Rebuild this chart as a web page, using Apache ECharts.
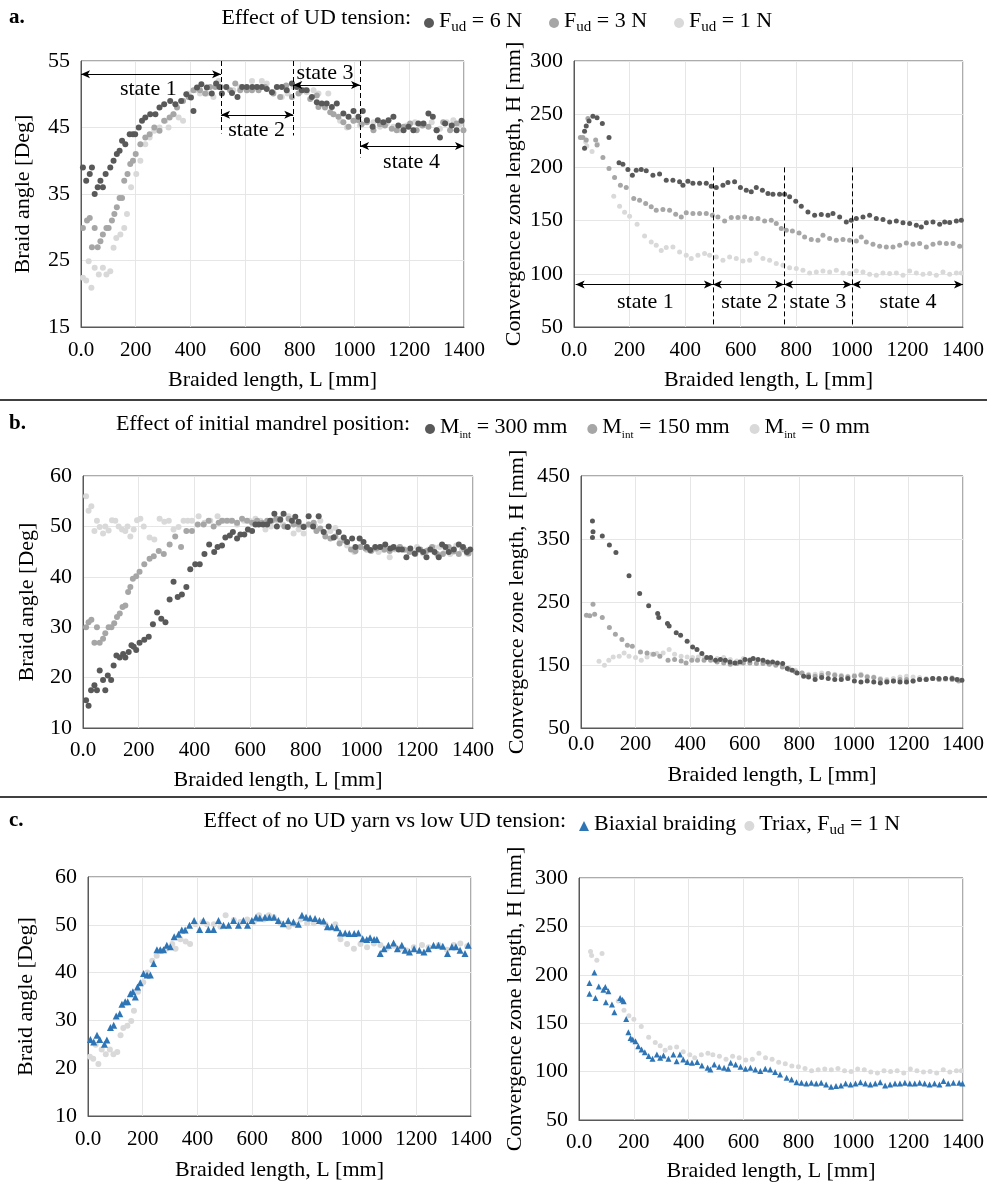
<!DOCTYPE html>
<html>
<head>
<meta charset="utf-8">
<script src="https://cdn.jsdelivr.net/npm/echarts@6/dist/echarts.min.js"></script>
<style>
  html, body { margin: 0; padding: 0; background: #fff; }
  #chart { width: 987px; height: 1183px; }
</style>
</head>
<body>
<div id="chart"></div>
<script>
// ---- data: [braided length L (mm), value] ----
// a. effect of UD tension - braid angle
const angleUd6 = [[7,39],[19,37],[32,38],[40,39],[50,35],[61,36],[71,37],[80,36],[90,38],[107,39],[119,40],[131,41],[141,41.5],[150,43],[162,42.5],[178,44],[190,44],[198,44],[211,45],[223,46],[235,46.5],[253,47],[272,47],[287,48],[304,48.5],[326,49],[345,48.5],[366,49],[385,50],[402,49.5],[411,47.5],[424,51],[440,51.5],[460,51],[478,50.1],[494,51.6],[506,51.1],[515,50.1],[531,51.1],[552,50.2],[572,49.6],[589,51.1],[606,51.1],[626,51.1],[643,51.1],[661,51.1],[679,50.8],[698,50.3],[716,51.1],[734,51.1],[752,50.6],[771,51.6],[789,51.1],[807,50.6],[825,50.6],[844,49.6],[862,48.8],[880,48.6],[898,48.6],[917,48.1],[935,48.6],[959,47.1],[978,46.6],[996,47.5],[1014,46.6],[1030,47.5],[1045,46.1],[1066,45.1],[1085,46.1],[1105,45.8],[1124,46.1],[1142,46.6],[1160,45.3],[1179,44.6],[1197,45.1],[1215,44.6],[1233,45.6],[1252,45.6],[1270,47.1],[1286,46.6],[1300,44.6],[1312,43.5],[1331,45.6],[1355,45.3],[1373,44.6],[1391,46]]
const angleUd3 = [[7,29.9],[22,31],[32,31.4],[40,27],[50,29.9],[61,27],[71,27.9],[80,28.9],[93,29.9],[101,29.9],[113,31],[122,32],[131,33],[141,34.4],[150,34.4],[158,37],[170,38],[180,39.5],[190,40],[200,41],[217,42.5],[235,43.5],[251,44],[268,45],[287,44.5],[304,46],[324,46.5],[338,47],[351,48],[373,49],[393,49.6],[411,50.6],[435,50.6],[454,50.1],[472,51.1],[491,51.1],[511,51.1],[545,50.6],[564,51.6],[582,50.6],[606,50.6],[625,50.6],[649,50.6],[673,51.1],[703,50.1],[728,49.6],[750,51.3],[771,49.6],[795,50.1],[816,50.6],[838,49.3],[862,49.8],[868,48.1],[892,48],[911,47.3],[923,47],[941,46.6],[959,45.8],[978,45.1],[996,46],[1014,46.1],[1026,45.5],[1045,45.8],[1069,44.6],[1093,45.5],[1111,45.3],[1136,44.8],[1154,44.6],[1179,45.1],[1203,45.6],[1227,44.6],[1249,45.3],[1270,45.1],[1300,44.6],[1324,45.8],[1349,44.6],[1373,45.6],[1398,44.6]]
// Fud = 1 N, also the triax series of row c
const angleUd1 = [[7,22.4],[19,22],[28,24.9],[38,20.9],[50,23.9],[65,22.9],[80,23.9],[93,22.9],[107,23.4],[119,26.9],[129,28.4],[144,28.9],[158,29.9],[168,32],[183,36],[202,38],[217,40],[235,42.5],[251,43.5],[268,44.5],[287,45],[308,46],[320,45],[338,47],[357,46.5],[373,46],[393,50.1],[418,50.6],[435,50.1],[460,50.1],[484,49.6],[503,52],[533,51],[557,50.6],[582,51.1],[606,50.6],[625,52],[643,51.1],[661,52],[679,51.6],[703,50.3],[734,49.6],[755,50.1],[777,51.1],[801,50.3],[825,50.3],[850,50.6],[868,50.1],[904,50.1],[923,47],[947,46],[972,45],[996,46],[1020,45.3],[1045,46.1],[1069,45.8],[1093,45.1],[1118,45.6],[1142,45.1],[1166,44.6],[1191,45.3],[1221,45.8],[1245,45.3],[1282,45.8],[1312,44.8],[1337,45.8],[1361,46.1],[1386,45.5]]

// a. effect of UD tension - convergence zone length
const convUd6 = [[38,234],[38,218],[44,239],[54,243.5],[68,248],[83,246.7],[102,241.3],[126,228.2],[162,204.3],[176,203],[194,198],[210,192.7],[224,197.4],[242,198],[260,196.8],[284,192.7],[308,193.7],[332,188],[356,188],[380,186.4],[392,183.3],[410,187],[428,185],[452,185],[476,185],[494,182.4],[512,181],[536,183.3],[554,185.8],[578,186.4],[599,181],[620,178.6],[638,177],[656,181],[678,178.6],[698,175.5],[716,174.8],[740,174.8],[758,174.8],[776,172.3],[798,168.3],[818,163.6],[842,158.2],[866,155],[890,155.7],[914,155],[932,156.6],[956,153.5],[980,148.8],[998,150.4],[1016,152],[1040,153.5],[1064,155],[1088,152],[1112,151],[1136,148.8],[1160,149.7],[1184,147.9],[1208,147.2],[1232,145.7],[1250,144],[1268,147.9],[1292,148.8],[1316,146.6],[1334,148.8],[1352,148.2],[1376,149.7],[1394,150.4]]
const convUd3 = [[23,228.2],[32,228.2],[44,225.7],[50,246],[78,225.7],[83,221],[104,209.4],[126,199],[146,190.5],[167,183.3],[188,181],[215,170.8],[236,169.2],[258,166],[278,163],[296,159.8],[320,160.4],[344,159.8],[366,156],[386,153.5],[404,157.3],[428,156.6],[452,156.6],[476,156.6],[498,155],[518,153.5],[542,149.7],[566,152.9],[590,152.9],[614,153.5],[638,152],[662,152],[686,149.7],[710,150.4],[728,147.2],[746,142.5],[764,141],[786,140.3],[810,138.4],[830,134.7],[854,132.2],[878,131.6],[896,136.3],[920,133.1],[944,131.6],[968,132.2],[992,131.6],[1016,130.9],[1034,134.7],[1052,130],[1076,127.8],[1100,125.9],[1124,125.3],[1148,125.3],[1172,126.9],[1196,129],[1220,127.8],[1244,128.4],[1268,125.3],[1292,127.8],[1316,129],[1340,128.4],[1364,128.4],[1388,125.9]]
// Fud = 1 N, also the triax series of row c
const convUd1 = [[42,224],[46,220],[65,215],[84,222],[143,173],[164,163.5],[182,157.8],[200,154],[227,146.6],[254,135.6],[278,130],[296,126.8],[314,122],[332,124.7],[356,125.3],[380,120.6],[404,117.4],[422,114.3],[446,117.4],[470,119],[488,117.4],[512,115.8],[536,112.7],[560,115.8],[584,114.3],[608,112.1],[632,112.7],[656,119],[680,114.3],[704,112.7],[728,109.6],[752,108],[776,105.8],[800,104.9],[824,103.3],[848,100.8],[872,101.8],[896,102.7],[920,101.8],[944,103.3],[968,100.8],[992,100.2],[1016,102.7],[1040,101.8],[1064,99.6],[1088,98.6],[1112,100.8],[1136,100.2],[1160,100.8],[1184,98.6],[1208,102.7],[1232,100.8],[1256,99.6],[1280,100.2],[1304,98.6],[1328,101.8],[1352,99.6],[1376,100.8],[1394,100.8]]

// b. effect of initial mandrel position - braid angle
const angleM300 = [[11,15.5],[20,14.4],[29,17.5],[41,18.5],[50,17.5],[60,21.4],[72,19.5],[80,17.5],[89,20.4],[101,19.5],[110,22.4],[120,24.4],[132,24],[144,24.7],[152,24],[164,25.1],[174,26.4],[182,26.1],[191,25.5],[203,26.9],[220,27.5],[236,28.1],[251,30.6],[266,32.9],[281,31.7],[296,31],[311,35.5],[325,39],[340,36],[355,36.5],[371,38],[385,41.5],[403,42.5],[419,42.5],[436,44.5],[453,46.4],[471,44.9],[483,45.9],[499,46.2],[511,47.8],[527,48.2],[538,48.9],[553,47.6],[565,48.4],[579,48.4],[592,49.4],[607,49.1],[619,50.4],[631,50.4],[646,50.4],[661,50.4],[672,51.1],[687,52.5],[696,50],[708,51.3],[720,52.5],[735,49.9],[750,51.1],[762,51.9],[774,50.9],[792,49.9],[810,52],[826,50],[846,52],[864,48.9],[882,50],[900,47.8],[918,48.9],[936,47.8],[948,46.9],[966,47.6],[978,45.9],[993,47.6],[1007,46.9],[1019,45.9],[1031,45.3],[1049,45.9],[1067,45.9],[1085,46.4],[1103,45.6],[1115,45.9],[1133,45.4],[1145,45.4],[1161,43.9],[1175,45.6],[1191,44.6],[1205,45.4],[1221,44.9],[1233,43.9],[1247,45.4],[1262,44.9],[1277,43.9],[1289,46.4],[1301,45.9],[1313,44.9],[1331,45.4],[1349,46.4],[1364,45.9],[1378,44.9],[1390,45.4]]
const angleM150 = [[11,30],[20,31],[30,31.5],[41,26.9],[50,30],[60,26.9],[72,27.7],[80,28.8],[92,30],[102,30],[112,30.8],[122,32],[132,32.7],[142,34],[152,34.3],[162,37],[170,38],[179,39.6],[191,40.1],[203,41],[220,42.5],[239,43.6],[254,44.1],[272,45.1],[290,44.5],[311,46.4],[331,48],[352,45.9],[371,49.1],[391,49.1],[412,50.4],[433,50.4],[451,51.1],[469,50],[487,50.7],[499,51.1],[517,51.1],[535,51.1],[553,50.7],[571,51.5],[589,51.1],[607,50.7],[625,51.1],[643,50.7],[661,51.1],[678,51.1],[694,51.5],[708,51.5],[723,50],[738,51.5],[756,50.4],[774,50.4],[792,50],[810,50.4],[828,50.7],[838,49.1],[852,49.6],[870,48],[888,47.6],[906,48],[921,46.6],[939,47.2],[962,45.4],[978,45.1],[996,45.9],[1014,45.6],[1034,45.1],[1053,45.6],[1067,45.9],[1082,45.4],[1101,45.1],[1115,45.6],[1137,45.9],[1153,45.4],[1172,44.9],[1193,44.5],[1211,45.4],[1233,45.1],[1253,45.9],[1271,44.5],[1292,44.5],[1313,45.9],[1331,45],[1349,44.5],[1369,45.4],[1384,44.6]]
const angleM0 = [[11,56],[20,53.1],[30,54],[41,49.1],[50,51.1],[60,49.9],[72,48.6],[80,50],[92,49.2],[104,51.2],[116,51.1],[128,50],[140,49.4],[152,49.1],[160,50],[170,48],[182,49.4],[194,51.2],[206,51.5],[218,50],[239,47.8],[256,47.4],[275,51.5],[292,50.9],[308,51.1],[325,49.4],[343,49.9],[361,51.1],[376,51.1],[391,51.1],[415,52],[436,50.7],[457,51.1],[483,52],[505,51.1],[529,51.1],[553,50.4],[577,51.1],[598,51.1],[619,51.5],[637,51.1],[655,49.4],[675,50],[696,51.1],[718,50.4],[738,52],[756,48.6],[774,49.4],[792,48.6],[810,50.4],[834,50],[852,51.1],[870,48.6],[888,49.1],[906,49.7],[924,47.2],[948,46.2],[974,44.9],[996,45.9],[1019,45.3],[1041,45.4],[1061,44.9],[1079,45.3],[1101,43.9],[1121,45.4],[1139,45.9],[1157,45.3],[1178,44.9],[1199,45.9],[1221,44.6],[1241,45.4],[1261,45.8],[1280,45.9],[1301,45.1],[1318,44.5],[1340,46.2],[1360,45.4],[1378,44.6]]

// b. effect of initial mandrel position - convergence zone length
const convM300 = [[42,378.5],[44,361.5],[42,352.5],[78,354.6],[104,340.3],[128,328.7],[176,291.6],[215,263.5],[248,243.9],[281,231.7],[285,225.4],[317,215.8],[323,212.1],[349,201],[365,197.3],[389,187.7],[409,178.7],[425,174.5],[443,168.1],[461,161.8],[475,161.8],[493,157.5],[511,158.6],[529,157.5],[546,154.9],[564,153.3],[583,154.9],[601,158.6],[619,157.5],[631,160.2],[649,158.6],[667,157.5],[684,154.9],[702,154.9],[720,153.3],[739,152.3],[756,144.3],[774,141.7],[792,137.4],[816,132.1],[834,131.1],[858,126.8],[882,130],[906,128.4],[930,126.8],[954,126.8],[978,128.4],[1002,124.7],[1026,123.1],[1049,124.7],[1073,123.1],[1097,121.5],[1121,123.1],[1145,124.7],[1169,123.1],[1193,123.1],[1217,124.7],[1241,126.8],[1265,126.8],[1289,128.4],[1312,128.4],[1336,128.4],[1360,128.4],[1378,126.8],[1396,125.8]]
const convM150 = [[20,229],[32,228],[44,246.6],[50,230.7],[78,225.4],[104,209.5],[126,198.9],[150,190.4],[170,181.4],[188,179.8],[218,170.8],[242,169.2],[266,167.1],[289,163.9],[319,157.5],[343,158.6],[367,156.5],[385,153.3],[406,157.5],[427,157.5],[451,157.5],[475,157.5],[499,154.9],[523,153.3],[547,151.2],[571,152.3],[595,153.3],[619,153.3],[643,152.3],[667,152.3],[690,151.2],[714,149.6],[738,147],[762,142.7],[786,139],[810,137.4],[834,133.7],[858,132.1],[882,133.7],[906,136.4],[930,133.7],[954,132.1],[978,131.1],[1002,132.1],[1026,133.7],[1049,131.1],[1073,130],[1097,126.8],[1121,124.7],[1145,124.7],[1169,126.8],[1193,126.8],[1217,124.7],[1241,126.8],[1265,126.8],[1289,128.4],[1312,126.8],[1336,128.4],[1360,126.8],[1384,124.7]]
const convM0 = [[66,156],[86,149.6],[102,157.5],[118,162.8],[140,163.9],[158,169.2],[176,163.9],[200,161.8],[221,157.5],[242,162.8],[260,167.1],[278,168.1],[301,169.2],[323,174.5],[343,167.1],[367,163.9],[389,162.8],[409,161.8],[430,162.8],[451,161.8],[475,158.6],[499,160.2],[523,161.8],[547,158.6],[571,156.5],[595,160.2],[619,158.6],[643,157.5],[667,154.9],[690,152.3],[714,151.2],[738,149.6],[762,145.9],[786,141.7],[810,137.4],[834,135.3],[858,135.3],[882,137.4],[906,136.4],[930,135.3],[954,133.7],[978,132.1],[1002,133.7],[1026,135.3],[1049,132.1],[1073,131.1],[1097,128.4],[1121,126.8],[1145,128.4],[1169,131.1],[1193,132.1],[1217,131.1],[1241,130],[1265,128.4],[1289,128.4],[1312,126.8],[1336,126.8],[1360,130],[1384,126.8]]

// c. biaxial braiding (the triax series reuses angleUd1 / convUd1)
const angleBiax = [[9,26],[21,25.5],[33,26.9],[43,26],[60,25],[69,25.9],[82,28.5],[94,29],[103,30.9],[116,31.4],[124,33.4],[136,33.9],[145,33.9],[155,35.6],[164,36],[173,34.9],[181,37],[191,37.9],[203,39.8],[216,39.5],[228,39.5],[240,41.9],[252,44.8],[264,44.8],[276,44.8],[288,45.7],[301,45.4],[315,47.5],[331,48],[343,48.9],[355,48.9],[371,49.9],[388,50.9],[408,49],[422,50.9],[440,49],[459,49],[477,50.9],[495,49.9],[514,49.9],[532,50.9],[550,49.9],[568,50.9],[583,49.9],[599,50.9],[614,51.6],[628,51.4],[647,51.6],[663,51.6],[680,51.6],[696,50.9],[714,50.2],[732,50.9],[751,50.6],[769,50.1],[782,52],[797,51.6],[812,51.4],[830,51.3],[846,50.9],[861,50.8],[875,49.6],[891,49.6],[909,49.4],[922,48.3],[940,48.3],[955,48.2],[973,48.2],[988,48.3],[1004,47.1],[1019,46.9],[1031,47.3],[1046,46.9],[1056,46.9],[1068,44],[1082,45],[1098,45.7],[1117,46.2],[1131,45],[1147,45.7],[1159,44.7],[1175,44.3],[1192,45],[1211,44.7],[1228,44.3],[1244,45],[1263,45.7],[1281,45.7],[1297,45.5],[1314,44],[1330,45.4],[1345,45.4],[1360,44.7],[1378,44],[1390,45.7]]
const convBiax = [[38,191.5],[38,180.5],[56,202.5],[60,176],[72,188],[89,184.6],[96,187.4],[98,171.6],[107,183],[120,169.2],[129,161.3],[150,176],[158,174.3],[163,172.6],[172,154.4],[180,140.7],[188,134.8],[196,133.1],[206,131.4],[216,126.2],[228,122.8],[240,120],[254,116],[268,113.2],[284,117.7],[296,114.2],[308,116.6],[326,113.2],[344,117.7],[356,110.8],[368,117.7],[380,112.5],[395,109.8],[412,109.1],[431,109.8],[448,106.3],[469,103.9],[479,102.2],[493,107.3],[511,104.9],[529,103.9],[544,102.9],[553,109.1],[571,107.3],[589,104.9],[607,102.9],[625,103.9],[643,102.2],[661,100.5],[679,102.9],[697,102.2],[715,99.5],[733,97],[757,93.6],[775,91.9],[793,89.1],[811,88.5],[829,87.8],[847,88.5],[865,87.8],[883,88.5],[901,86.7],[919,84.3],[937,85],[955,85.7],[972,87.8],[990,86.7],[1008,87.8],[1026,89.1],[1044,87.8],[1062,86.7],[1080,87.8],[1098,89.1],[1116,85.7],[1134,86.7],[1152,87.8],[1170,87.8],[1188,88.5],[1206,87.8],[1224,87.8],[1242,88.5],[1260,87.8],[1278,86.7],[1296,87.8],[1314,86.7],[1329,90.2],[1346,87.8],[1365,88.5],[1386,88.5],[1398,87.8]]

// state boundaries (mm) used by the annotations of row a
const statesAngle = [512, 776, 1020]
const statesConv = [500, 756, 1000]

const FONT = 'Liberation Serif'
const DARK = '#595959'
const MID = '#a6a6a6'
const LIGHT = '#d9d9d9'
const BLUE = '#2e75b6'

const legendText = {
  'Fud = 6 N': '{t|F}{s|ud}{t| = 6 N}',
  'Fud = 3 N': '{t|F}{s|ud}{t| = 3 N}',
  'Fud = 1 N': '{t|F}{s|ud}{t| = 1 N}',
  'Mint = 300 mm': '{t|M}{i|int}{t| = 300 mm}',
  'Mint = 150 mm': '{t|M}{i|int}{t| = 150 mm}',
  'Mint = 0 mm': '{t|M}{i|int}{t| = 0 mm}',
  'Biaxial braiding': '{t|Biaxial braiding}',
  'Triax, Fud = 1 N': '{t|Triax, F}{s|ud}{t| = 1 N}',
}

let myChart = echarts.init(document.getElementById('chart'), null, { renderer: 'canvas' })

function grid(left, top, width, height) {
  return { left, top, width, height, show: true, borderColor: DARK, borderWidth: 1, backgroundColor: 'transparent' }
}

function xAxis(gridIndex, labelMargin, nameGap) {
  return {
    type: 'value', gridIndex, min: 0, max: 1400, interval: 200,
    name: 'Braided length, L [mm]', nameLocation: 'middle', nameGap,
    nameTextStyle: { fontFamily: FONT, fontSize: 22, color: '#000' },
    axisLine: { show: true, lineStyle: { color: DARK } },
    axisTick: { show: false },
    axisLabel: { margin: labelMargin, fontFamily: FONT, fontSize: 21, color: '#000',
      formatter: (v) => (v === 0 ? '0.0' : v) },
    splitLine: { show: true, lineStyle: { color: '#e6e6e6' } },
  }
}

function yAxis(gridIndex, min, max, interval, name, nameGap) {
  return {
    type: 'value', gridIndex, min, max, interval,
    name, nameLocation: 'middle', nameGap,
    nameTextStyle: { fontFamily: FONT, fontSize: 22, color: '#000' },
    axisLine: { show: true, lineStyle: { color: DARK } },
    axisTick: { show: false },
    axisLabel: { margin: 11, fontFamily: FONT, fontSize: 22, color: '#000' },
    splitLine: { show: true, lineStyle: { color: '#e6e6e6' } },
  }
}

function scat(name, data, idx, color, size, symbol) {
  return {
    name, type: 'scatter', data, xAxisIndex: idx, yAxisIndex: idx,
    symbol: symbol || 'circle', symbolSize: size, itemStyle: { color, opacity: 1 },
  }
}

function legend(left, top, data, icon, gap) {
  return {
    left, top, data, icon, itemWidth: 10, itemHeight: 10, itemGap: gap,
    formatter: (n) => legendText[n],
    textStyle: {
      fontFamily: FONT, fontSize: 22, color: '#000',
      rich: {
        t: { fontFamily: FONT, fontSize: 22, color: '#000', verticalAlign: 'top', lineHeight: 26 },
        s: { fontFamily: FONT, fontSize: 15, color: '#000', verticalAlign: 'top', padding: [10, 0, 0, 0] },
        i: { fontFamily: FONT, fontSize: 11, color: '#000', verticalAlign: 'top', padding: [14, 0, 0, 0] },
      },
    },
  }
}

function arrow(x1, x2, y) {
  return [{ coord: [x1, y] }, { coord: [x2, y] }]
}
function dash(x, y1, y2) {
  return [
    { coord: [x, y1], symbol: 'none', lineStyle: { type: [5, 3], color: '#000', width: 1 } },
    { coord: [x, y2], symbol: 'none', lineStyle: { type: [5, 3], color: '#000', width: 1 } },
  ]
}
function stateLabel(name, x, y) {
  return { name, coord: [x, y] }
}

const markStyle = {
  silent: true, symbol: ['arrow', 'arrow'], symbolSize: [6, 9],
  lineStyle: { color: '#000', width: 1, type: 'solid' }, label: { show: false },
}
const labelStyle = {
  silent: true, symbol: 'rect', symbolSize: 1, itemStyle: { color: 'rgba(0,0,0,0)' },
  label: { show: true, position: 'inside', formatter: (p) => p.name, fontFamily: FONT, fontSize: 22, color: '#000' },
}

// annotated series of row a
const aLeftDark = scat('Fud = 6 N', angleUd6, 0, DARK, 6)
aLeftDark.markLine = Object.assign({}, markStyle, {
  data: [
    dash(statesAngle[0], 55, 44.1), dash(statesAngle[1], 55, 43.8), dash(statesAngle[2], 55, 40.5),
    arrow(0, statesAngle[0], 53.0), arrow(statesAngle[0], statesAngle[1], 46.9),
    arrow(statesAngle[1], statesAngle[2], 51.4), arrow(statesAngle[2], 1400, 42.2),
  ],
})
aLeftDark.markPoint = Object.assign({}, labelStyle, {
  data: [stateLabel('state 1', 246, 50.7), stateLabel('state 2', 642, 44.6),
    stateLabel('state 3', 892, 53.1), stateLabel('state 4', 1208, 39.8)],
})

const aRightDark = scat('Fud = 6 N', convUd6, 1, DARK, 5)
aRightDark.markLine = Object.assign({}, markStyle, {
  data: [
    dash(statesConv[0], 200, 50), dash(statesConv[1], 200, 50), dash(statesConv[2], 200, 50),
    arrow(6, statesConv[0], 90), arrow(statesConv[0], statesConv[1], 90),
    arrow(statesConv[1], statesConv[2], 90), arrow(statesConv[2], 1400, 90),
  ],
})
aRightDark.markPoint = Object.assign({}, labelStyle, {
  data: [stateLabel('state 1', 257, 73.5), stateLabel('state 2', 632, 73.5),
    stateLabel('state 3', 878, 73.5), stateLabel('state 4', 1202, 73.5)],
})

const CONV = 'Convergence zone length, H [mm]'
const ANGLE = 'Braid angle [Deg]'
const HEAD = '22px "Liberation Serif"'
const BOLD = 'bold 21px "Liberation Serif"'

myChart.setOption({
  animation: false,
  backgroundColor: '#fff',
  grid: [
    grid(81, 61, 383, 266),
    grid(574, 61, 389, 266),
    grid(83, 476, 390, 252),
    grid(581, 476, 390, 252),
    grid(88, 877, 383, 239),
    grid(579, 878, 390, 243),
  ],
  xAxis: [
    xAxis(0, 13, 42), xAxis(1, 13, 42),
    xAxis(2, 12, 41), xAxis(3, 6, 36),
    xAxis(4, 13, 43), xAxis(5, 12, 40),
  ],
  yAxis: [
    yAxis(0, 15, 55, 10, ANGLE, 47),
    yAxis(1, 50, 300, 50, CONV, 49),
    yAxis(2, 10, 60, 10, ANGLE, 45),
    yAxis(3, 50, 450, 100, CONV, 53),
    yAxis(4, 10, 60, 10, ANGLE, 51),
    yAxis(5, 50, 300, 50, CONV, 53),
  ],
  legend: [
    legend(419, 5, ['Fud = 6 N', 'Fud = 3 N', 'Fud = 1 N'], 'circle', 27),
    legend(420, 411, ['Mint = 300 mm', 'Mint = 150 mm', 'Mint = 0 mm'], 'circle', 20),
    legend(574, 808, [{ name: 'Biaxial braiding', icon: 'triangle' }, { name: 'Triax, Fud = 1 N', icon: 'circle' }], null, 8),
  ],
  graphic: [
    { type: 'text', left: 9, top: 7, style: { text: 'a.', font: BOLD, fill: '#000' } },
    { type: 'text', left: 9, top: 413, style: { text: 'b.', font: BOLD, fill: '#000' } },
    { type: 'text', left: 9, top: 810, style: { text: 'c.', font: BOLD, fill: '#000' } },
    { type: 'text', right: 987 - 411, top: 7, style: { text: 'Effect of UD tension:', font: HEAD, fill: '#000' } },
    { type: 'text', right: 987 - 410, top: 413, style: { text: 'Effect of initial mandrel position:', font: HEAD, fill: '#000' } },
    { type: 'text', right: 987 - 566, top: 810, style: { text: 'Effect of no UD yarn vs low UD tension:', font: HEAD, fill: '#000' } },
    { type: 'line', shape: { x1: 0, y1: 400, x2: 987, y2: 400 }, style: { stroke: '#404040', lineWidth: 2 } },
    { type: 'line', shape: { x1: 0, y1: 797, x2: 987, y2: 797 }, style: { stroke: '#404040', lineWidth: 2 } },
  ],
  series: [
    // row a
    scat('Fud = 1 N', angleUd1, 0, LIGHT, 6),
    scat('Fud = 3 N', angleUd3, 0, MID, 6),
    aLeftDark,
    scat('Fud = 1 N', convUd1, 1, LIGHT, 5),
    scat('Fud = 3 N', convUd3, 1, MID, 5),
    aRightDark,
    // row b
    scat('Mint = 0 mm', angleM0, 2, LIGHT, 6),
    scat('Mint = 150 mm', angleM150, 2, MID, 6),
    scat('Mint = 300 mm', angleM300, 2, DARK, 6),
    scat('Mint = 0 mm', convM0, 3, LIGHT, 5),
    scat('Mint = 150 mm', convM150, 3, MID, 5),
    scat('Mint = 300 mm', convM300, 3, DARK, 5),
    // row c
    scat('Triax, Fud = 1 N', angleUd1, 4, LIGHT, 6),
    scat('Biaxial braiding', angleBiax, 4, BLUE, 7, 'triangle'),
    scat('Triax, Fud = 1 N', convUd1, 5, LIGHT, 5),
    scat('Biaxial braiding', convBiax, 5, BLUE, 6, 'triangle'),
  ],
})
</script>
</body>
</html>
